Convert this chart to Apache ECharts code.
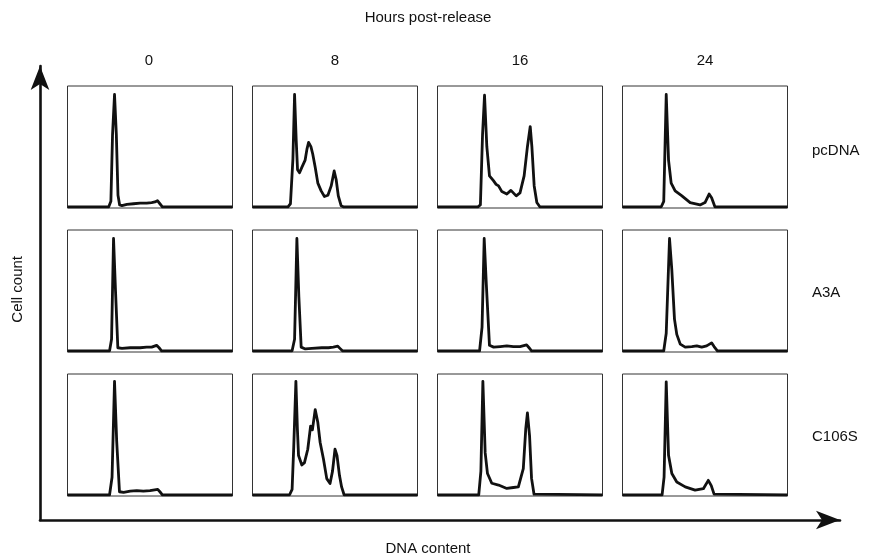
<!DOCTYPE html>
<html><head><meta charset="utf-8">
<script src="https://cdn.jsdelivr.net/npm/echarts@6/dist/echarts.min.js"></script>
<style>html,body{margin:0;padding:0;background:#fff}#c{width:894px;height:559px}</style>
</head><body><div id="c"></div>
<script>
// Column (time) and row (construct) labels
var hours = ['0', '8', '16', '24'];
var constructs = ['pcDNA', 'A3A', 'C106S'];
var topTitle = 'Hours post-release';
var xName = 'DNA content';
var yName = 'Cell count';

// Histogram traces: [DNA content %, cell count % of panel max]
var pcDNA_0 = [[0,0.5],[25,0.5],[26.3,5],[27.3,60],[28.5,93],[29.6,60],[30.6,10],[31.6,2],[33,1.5],[36,2.5],[40,3],[44,3.5],[48,3.5],[51,4],[53,4.5],[54.5,5.5],[56,3],[57.5,0.5],[100,0.5]];
var pcDNA_8 = [[0,0.5],[21.5,0.5],[23,3],[24.5,40],[25.5,93],[26.5,55],[27.3,31],[28.5,28.5],[29.9,33],[31.9,39],[33,48],[34,53.5],[35.4,50],[36.5,44],[38,33],[39.6,20],[41.6,13.6],[43.6,9],[45.7,10],[47.7,17.7],[49.5,30],[50.7,23],[52,9.5],[53.7,1.4],[55,0.5],[100,0.5]];
var pcDNA_16 = [[0,0.5],[24.5,0.5],[26,2],[27.3,60],[28.5,92.4],[29.9,50],[31.5,26],[33.9,22],[35.5,19],[37,17.7],[39,13],[42,11],[44.5,14],[47.7,9.5],[50,12],[52.5,26],[54.5,50],[56.2,66.6],[57.2,50],[58.6,17.7],[60.2,4],[62,0.5],[100,0.5]];
var pcDNA_24 = [[0,0.5],[23.5,0.5],[25,5],[26.5,93],[27.9,39],[29.5,20],[31.9,13.6],[36,9.5],[41,4],[47,2],[50,4],[52.5,11],[54,8],[56,0.5],[100,0.5]];
var A3A_0 = [[0,0.5],[25.5,0.5],[26.7,10],[27.9,93],[29.1,50],[30.5,3],[33,2.5],[38,3],[44,3],[48,3.5],[51,3.5],[54,5],[55.5,3],[57,0.5],[100,0.5]];
var A3A_8 = [[0,0.5],[24,0.5],[25.5,10],[26.9,93],[28.1,45],[29.5,3.5],[32,2],[36,2.5],[42,3],[46,3],[49,3.5],[51.7,4.3],[53,2.5],[54.5,0.5],[100,0.5]];
var A3A_16 = [[0,0.5],[25.5,0.5],[27,20],[28.3,93],[29.6,55],[31.5,5],[34,3.5],[38,4],[42,4.5],[46,4],[50,4],[54,5.4],[55.5,3],[57,0.5],[100,0.5]];
var A3A_24 = [[0,0.5],[25,0.5],[26.5,15],[28.5,93],[29.9,67],[31.5,26.6],[32.9,14],[35,6],[38,3.5],[42,4],[45,4.5],[48,3.5],[51,4.5],[54,7],[55.5,4],[57.5,0.5],[100,0.5]];
var C106S_0 = [[0,0.5],[25.5,0.5],[27,15],[28.5,94],[29.8,45],[31.5,3],[34,2.5],[38,3.5],[42,4],[46,3.5],[50,4],[54.7,5],[56,3],[57.5,0.5],[100,0.5]];
var C106S_8 = [[0,0.5],[22.5,0.5],[24,5],[25,40],[26.3,94],[27.2,55],[27.9,32.8],[29.9,25],[31.5,27],[33.5,38],[35.2,57],[36.3,54],[38,70.7],[39.6,60],[41,43.6],[43,30],[45,13.8],[47,9.8],[48.5,20],[50,38],[51.2,33],[52.7,16.5],[54,7],[55.5,0.5],[100,0.5]];
var C106S_16 = [[0,0.5],[25,0.5],[26.3,20],[27.5,94],[28.9,35],[30.3,18],[32.9,10],[37,8.5],[42,5.7],[46,6.5],[49,7],[52,22],[53.5,55],[54.5,68],[55.8,49],[57,14],[58.5,1],[100,0.5]];
var C106S_24 = [[0,0.5],[24,0.5],[25.2,15],[26.5,93.5],[27.9,33],[29.9,18],[32.9,11],[38,7],[44,4.3],[49,5.5],[52,12.4],[53.8,8],[55.5,1],[100,0.5]];

var panels = [
  [pcDNA_0, pcDNA_8, pcDNA_16, pcDNA_24],
  [A3A_0, A3A_8, A3A_16, A3A_24],
  [C106S_0, C106S_8, C106S_16, C106S_24]
];

var FONT = '"Liberation Sans", Arial, sans-serif';
var lefts = [67.5, 252.5, 437.5, 622.5];
var tops = [86, 230, 374];
var W = 165, H = 122;

var grids = [], xAxes = [], yAxes = [], series = [], titles = [];
for (var r = 0; r < 3; r++) {
  for (var c = 0; c < 4; c++) {
    var i = grids.length;
    grids.push({left: lefts[c], top: tops[r], width: W, height: H, show: true,
      borderColor: '#333', borderWidth: 1, backgroundColor: 'transparent', containLabel: false});
    xAxes.push({type: 'value', gridIndex: i, min: 0, max: 100, show: false});
    yAxes.push({type: 'value', gridIndex: i, min: -0.5, max: 100, show: false});
    series.push({type: 'line', xAxisIndex: i, yAxisIndex: i, data: panels[r][c],
      symbol: 'none', smooth: false, silent: true,
      lineStyle: {color: '#111', width: 2.8, join: 'round'}});
  }
}
// arrow axes grid
grids.push({left: 40, top: 66, right: 54, bottom: 39, show: false});
var ai = grids.length - 1;
xAxes.push({type: 'value', gridIndex: ai, min: 0, max: 1, axisTick: {show: false}, axisLabel: {show: false}, splitLine: {show: false},
  axisLine: {show: true, onZero: false, symbol: ['none', 'arrow'], symbolSize: [14, 24], lineStyle: {color: '#111', width: 2.6}}});
yAxes.push({type: 'value', gridIndex: ai, min: 0, max: 1, axisTick: {show: false}, axisLabel: {show: false}, splitLine: {show: false},
  axisLine: {show: true, onZero: false, symbol: ['none', 'arrow'], symbolSize: [14, 24], lineStyle: {color: '#111', width: 2.6}}});

var ts = {fontFamily: FONT, fontSize: 15, fontWeight: 'normal', color: '#111'};
titles.push({text: topTitle, left: 428, top: 10, padding: 0, textAlign: 'center', textStyle: ts});
var colCenters = [149, 335, 520, 705];
for (var c2 = 0; c2 < 4; c2++) {
  titles.push({text: hours[c2], left: colCenters[c2], top: 53, padding: 0, textAlign: 'center', textStyle: ts});
}
var rowY = [143, 285, 429];
for (var r2 = 0; r2 < 3; r2++) {
  titles.push({text: constructs[r2], left: 812, top: rowY[r2], padding: 0, textStyle: ts});
}
titles.push({text: xName, left: 428, top: 541, padding: 0, textAlign: 'center', textStyle: ts});

var chart = echarts.init(document.getElementById('c'), null, {renderer: 'canvas'});
chart.setOption({
  animation: false,
  backgroundColor: '#fff',
  title: titles,
  grid: grids,
  xAxis: xAxes,
  yAxis: yAxes,
  series: series,
  graphic: [{type: 'text', left: 10, top: 256, rotation: Math.PI / 2,
    style: {text: yName, font: '15px ' + FONT, fill: '#111'}}]
});
</script></body></html>
